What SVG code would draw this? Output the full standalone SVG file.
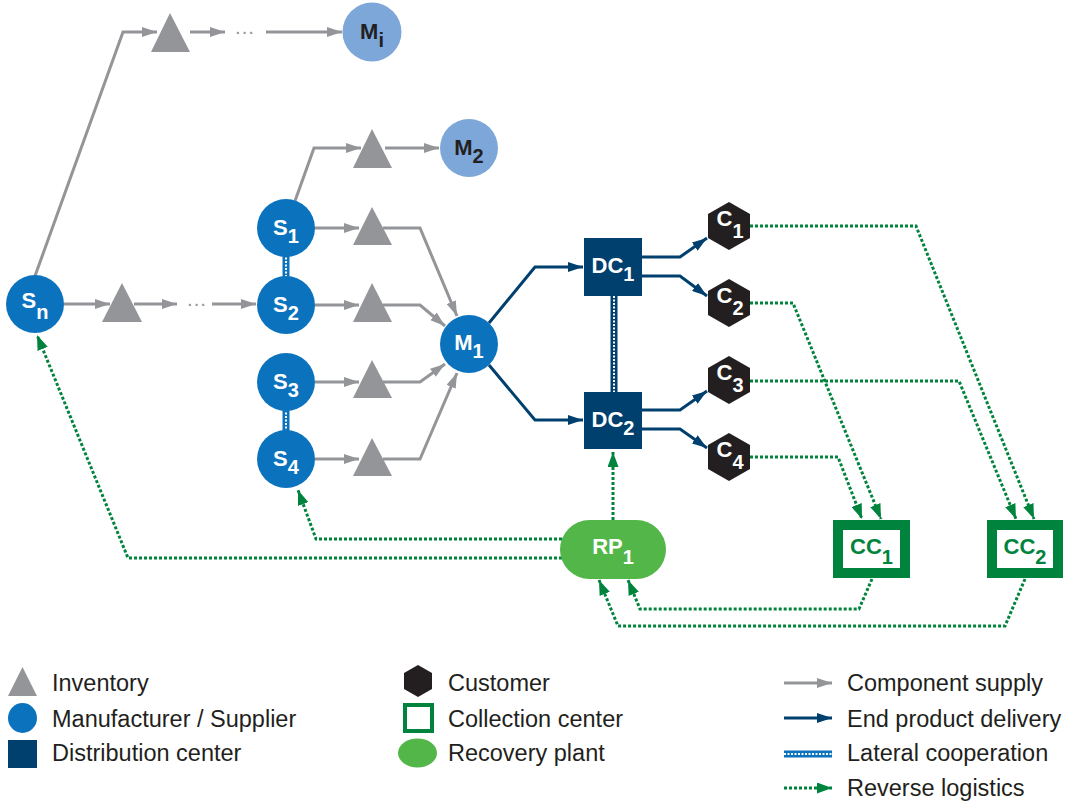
<svg xmlns="http://www.w3.org/2000/svg" width="1065" height="802" viewBox="0 0 1065 802">
<style>
.gray{fill:none;stroke:#939598;stroke-width:3;stroke-linejoin:miter}
.navy{fill:none;stroke:#00406F;stroke-width:3}
.green{fill:none;stroke:#00843D;stroke-width:3;stroke-dasharray:3 2}
.latb{stroke:#0B72BD;stroke-width:7}
.latn{stroke:#00406F;stroke-width:7}
.latw{stroke:#FFFFFF;stroke-width:2;stroke-dasharray:2 1.5}
.tri{fill:#939598}
.mfg{fill:#0B72BD}
.mfl{fill:#7DA7D9}
.dc{fill:#00406F}
.cust{fill:#231F20}
.cc{fill:#FFFFFF;stroke:#00843D;stroke-width:10}
.rp{fill:#52B748}
.lbl{font-family:"Liberation Sans",Arial,Helvetica,sans-serif;font-weight:bold;font-size:22px;text-anchor:middle;fill:#FFFFFF}
.sub{font-size:20px}
.dark{fill:#231F20}
.ccl{fill:#00843D}
.leg{font-family:"Liberation Sans",Arial,Helvetica,sans-serif;font-size:23.5px;fill:#231F20}
.dots{font-family:"Liberation Sans",Arial,sans-serif;font-size:20px;fill:#939598;text-anchor:middle}
</style>
<defs>
<marker id="ag" markerUnits="userSpaceOnUse" viewBox="0 0 15 10" refX="15" refY="5" markerWidth="15" markerHeight="10" orient="auto"><path d="M0,0 L15,5 L0,10 z" fill="#939598"/></marker>
<marker id="an" markerUnits="userSpaceOnUse" viewBox="0 0 15 10" refX="15" refY="5" markerWidth="15" markerHeight="10" orient="auto"><path d="M0,0 L15,5 L0,10 z" fill="#00406F"/></marker>
<marker id="ar" markerUnits="userSpaceOnUse" viewBox="0 0 15 11" refX="15" refY="5.5" markerWidth="15" markerHeight="11" orient="auto"><path d="M0,0 L15,5.5 L0,11 z" fill="#00843D"/></marker>
</defs>

<g id="connectors">
  <!-- component supply -->
  <path class="gray" d="M35,276 L123,32 L157,32" marker-end="url(#ag)"/>
  <path class="gray" d="M190,32 L225,32" marker-end="url(#ag)"/>
  <path class="gray" d="M266,32 L342,32" marker-end="url(#ag)"/>
  <path class="gray" d="M295,201 L314,148 L361,148" marker-end="url(#ag)"/>
  <path class="gray" d="M385,148 L439,148" marker-end="url(#ag)"/>
  <path class="gray" d="M315,228 L359,228" marker-end="url(#ag)"/>
  <path class="gray" d="M383,228 L420,228 L457,316" marker-end="url(#ag)"/>
  <path class="gray" d="M315,305 L359,305" marker-end="url(#ag)"/>
  <path class="gray" d="M383,305 L420,305 L445,326" marker-end="url(#ag)"/>
  <path class="gray" d="M315,382 L359,382" marker-end="url(#ag)"/>
  <path class="gray" d="M383,382 L420,382 L445,364" marker-end="url(#ag)"/>
  <path class="gray" d="M315,459 L359,459" marker-end="url(#ag)"/>
  <path class="gray" d="M383,459 L420,459 L457,373" marker-end="url(#ag)"/>
  <path class="gray" d="M64,304 L110,304" marker-end="url(#ag)"/>
  <path class="gray" d="M134,304 L177,304" marker-end="url(#ag)"/>
  <path class="gray" d="M212,304 L256,304" marker-end="url(#ag)"/>
  <text class="dots" x="244.5" y="38">···</text>
  <text class="dots" x="196.5" y="310">···</text>
  <!-- end product delivery -->
  <path class="navy" d="M489,323 L535,267 L583,267" marker-end="url(#an)"/>
  <path class="navy" d="M489,365 L535,420 L583,420" marker-end="url(#an)"/>
  <path class="navy" d="M642,257 L680,257 L707,238" marker-end="url(#an)"/>
  <path class="navy" d="M642,276 L680,276 L707,296" marker-end="url(#an)"/>
  <path class="navy" d="M642,410 L680,410 L707,391" marker-end="url(#an)"/>
  <path class="navy" d="M642,429 L680,429 L707,448" marker-end="url(#an)"/>
  <!-- lateral cooperation -->
  <line class="latb" x1="286" y1="254" x2="286" y2="279"/>
  <line class="latw" x1="286" y1="254" x2="286" y2="279"/>
  <line class="latb" x1="286" y1="409" x2="286" y2="433"/>
  <line class="latw" x1="286" y1="409" x2="286" y2="433"/>
  <line class="latn" x1="614" y1="296" x2="614" y2="392"/>
  <line class="latw" x1="614" y1="296" x2="614" y2="392"/>
  <!-- reverse logistics -->
  <path class="green" d="M750,226 L916,226 L1034,519" marker-end="url(#ar)"/>
  <path class="green" d="M750,303 L793,303 L881,519" marker-end="url(#ar)"/>
  <path class="green" d="M750,381 L959,381 L1016,519" marker-end="url(#ar)"/>
  <path class="green" d="M750,457 L838,457 L862,519" marker-end="url(#ar)"/>
  <path class="green" d="M872,579 L859,609 L640,609 L628,580" marker-end="url(#ar)"/>
  <path class="green" d="M1025,579 L1005,626 L618,626 L599,580" marker-end="url(#ar)"/>
  <path class="green" d="M613,520 L613,452" marker-end="url(#ar)"/>
  <path class="green" d="M562,539 L316,539 L298,490" marker-end="url(#ar)"/>
  <path class="green" d="M562,558 L128,558 L37,335" marker-end="url(#ar)"/>
</g>

<g id="inv-top"><polygon class="tri" points="170,13 151,52 190,52"/></g>
<g id="inv-m2"><polygon class="tri" points="372,129 353,168 392,168"/></g>
<g id="inv-s1"><polygon class="tri" points="372,207 353,245 392,245"/></g>
<g id="inv-s2"><polygon class="tri" points="372,283 353,322 392,322"/></g>
<g id="inv-s3"><polygon class="tri" points="372,360 353,398 392,398"/></g>
<g id="inv-s4"><polygon class="tri" points="372,438 353,476 392,476"/></g>
<g id="inv-sn"><polygon class="tri" points="122,283 102,322 142,322"/></g>

<g id="node-Sn"><circle class="mfg" cx="35" cy="304" r="29"/><text class="lbl" x="35" y="308">S<tspan class="sub" dy="11">n</tspan></text></g>
<g id="node-Mi"><circle class="mfl" cx="372" cy="32" r="29.5"/><text class="lbl dark" x="372" y="39">M<tspan class="sub" dy="8">i</tspan></text></g>
<g id="node-M2"><circle class="mfl" cx="469" cy="148" r="29"/><text class="lbl dark" x="469" y="155">M<tspan class="sub" dy="8">2</tspan></text></g>
<g id="node-S1"><circle class="mfg" cx="286" cy="228" r="29"/><text class="lbl" x="286" y="235">S<tspan class="sub" dy="8">1</tspan></text></g>
<g id="node-S2"><circle class="mfg" cx="286" cy="305" r="29"/><text class="lbl" x="286" y="312">S<tspan class="sub" dy="8">2</tspan></text></g>
<g id="node-S3"><circle class="mfg" cx="286" cy="382" r="29"/><text class="lbl" x="286" y="389">S<tspan class="sub" dy="8">3</tspan></text></g>
<g id="node-S4"><circle class="mfg" cx="286" cy="459" r="29"/><text class="lbl" x="286" y="466">S<tspan class="sub" dy="8">4</tspan></text></g>
<g id="node-M1"><circle class="mfg" cx="469" cy="344" r="29"/><text class="lbl" x="469" y="350">M<tspan class="sub" dy="8">1</tspan></text></g>
<g id="node-DC1"><rect class="dc" x="584" y="238" width="58" height="58"/><text class="lbl" x="613" y="273">DC<tspan class="sub" dy="8">1</tspan></text></g>
<g id="node-DC2"><rect class="dc" x="584" y="392" width="58" height="57"/><text class="lbl" x="613" y="427">DC<tspan class="sub" dy="8">2</tspan></text></g>
<g id="node-C1"><polygon class="cust" points="729,202 750,214 750,238 729,250 708,238 708,214"/><text class="lbl" x="730" y="226">C<tspan class="sub" dy="12">1</tspan></text></g>
<g id="node-C2"><polygon class="cust" points="729,279 750,291 750,315 729,327 708,315 708,291"/><text class="lbl" x="730" y="303">C<tspan class="sub" dy="12">2</tspan></text></g>
<g id="node-C3"><polygon class="cust" points="729,356 750,368 750,392 729,404 708,392 708,368"/><text class="lbl" x="730" y="380">C<tspan class="sub" dy="12">3</tspan></text></g>
<g id="node-C4"><polygon class="cust" points="729,433 750,445 750,469 729,481 708,469 708,445"/><text class="lbl" x="730" y="457">C<tspan class="sub" dy="12">4</tspan></text></g>
<g id="node-CC1"><rect class="cc" x="838" y="525" width="67" height="48"/><text class="lbl ccl" x="871.5" y="554">CC<tspan class="sub" dy="10">1</tspan></text></g>
<g id="node-CC2"><rect class="cc" x="992" y="525" width="66" height="48"/><text class="lbl ccl" x="1025" y="554">CC<tspan class="sub" dy="10">2</tspan></text></g>
<g id="node-RP1"><rect class="rp" x="560" y="520" width="106" height="59" rx="29.5"/><text class="lbl" x="613" y="554">RP<tspan class="sub" dy="10">1</tspan></text></g>

<g id="legend">
  <g id="legend-inventory"><polygon class="tri" points="22.5,667 8,696 37,696"/><text class="leg" x="52" y="691">Inventory</text></g>
  <g id="legend-manufacturer"><ellipse class="mfg" cx="22.5" cy="718" rx="14.5" ry="15"/><text class="leg" x="52" y="727">Manufacturer / Supplier</text></g>
  <g id="legend-dc"><rect class="dc" x="8" y="740" width="29" height="28"/><text class="leg" x="52" y="761">Distribution center</text></g>
  <g id="legend-customer"><polygon class="cust" points="418,665 432,673 432,689 418,697 404,689 404,673"/><text class="leg" x="448" y="691">Customer</text></g>
  <g id="legend-cc"><rect x="405" y="705" width="27" height="26" fill="#FFFFFF" stroke="#00843D" stroke-width="4"/><text class="leg" x="448" y="727">Collection center</text></g>
  <g id="legend-rp"><ellipse class="rp" cx="417.5" cy="753" rx="19.5" ry="14.5"/><text class="leg" x="448" y="761">Recovery plant</text></g>
  <g id="legend-component"><path class="gray" d="M784,683 L832,683" marker-end="url(#ag)"/><text class="leg" x="847" y="691">Component supply</text></g>
  <g id="legend-delivery"><path class="navy" d="M784,718 L832,718" marker-end="url(#an)"/><text class="leg" x="847" y="727">End product delivery</text></g>
  <g id="legend-lateral"><line class="latb" x1="784" y1="754" x2="832" y2="754"/><line class="latw" x1="784" y1="754" x2="832" y2="754"/><text class="leg" x="847" y="761">Lateral cooperation</text></g>
  <g id="legend-reverse"><path class="green" d="M784,788 L832,788" marker-end="url(#ar)"/><text class="leg" x="847" y="796">Reverse logistics</text></g>
</g>
</svg>
